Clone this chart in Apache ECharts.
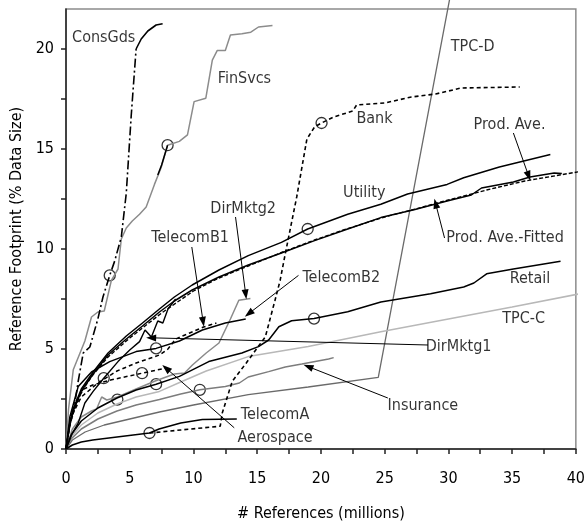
<!DOCTYPE html>
<html>
<head>
<meta charset="utf-8">
<script src="https://cdn.jsdelivr.net/npm/echarts@6/dist/echarts.min.js"></script>
<style>
  html, body { margin: 0; padding: 0; background: #fff; }
  #chart { width: 588px; height: 527px; }
</style>
</head>
<body>
<div id="chart"></div>
<script>
// Tick positions (millions of references / % of data size)
const xTickValues = [0, 2.5, 5, 7.5, 10, 12.5, 15, 17.5, 20, 22.5, 25, 27.5, 30, 32.5, 35, 37.5, 40];
const xLabelValues = [0, 5, 10, 15, 20, 25, 30, 35, 40];
const yTickValues = [0, 2.5, 5, 7.5, 10, 12.5, 15, 17.5, 20];
const yLabelValues = [0, 5, 10, 15, 20];

// Footprint curves: [references (millions), footprint (% data size)]
const consGdsRise = [[0,0],[0.3,1.3],[0.7,2.3],[0.96,3.4],[1.35,4.8],[1.87,5.1],[2.5,6.5],[2.9,7.6],[3.43,8.68],[3.82,9.4],[4.34,10.6],[4.73,12.8],[5.12,16.7],[5.5,20.0]];
const consGdsTop = [[5.5,20.0],[5.9,20.5],[6.42,20.9],[7.07,21.2],[7.58,21.26]];
const finSvcs = [[0,0],[0.2,2.0],[0.57,3.96],[1.48,5.4],[2.0,6.6],[2.5,6.85],[3.0,6.9],[3.56,8.43],[4.08,9.0],[4.34,10.5],[4.73,11.05],[5.2,11.4],[5.77,11.74],[6.29,12.1],[6.94,13.23],[7.46,14.06],[7.97,15.19],[8.89,15.38],[9.53,15.71],[10.05,17.37],[10.97,17.54],[11.48,19.44],[11.87,19.93],[12.5,19.93],[12.9,20.7],[13.8,20.76],[14.5,20.84],[15.1,21.1],[16.2,21.18]];
const finSvcsTail = [[7.2,13.7],[7.5,14.2],[7.97,15.19]];
const tpcD = [[0,0],[0.5,0.45],[1.5,0.85],[3,1.2],[5,1.5],[7.33,1.85],[10,2.2],[14.3,2.72],[19,3.1],[24.5,3.58],[30.1,22.5]];
const bank = [[6.55,0.8],[9,0.95],[12.1,1.14],[12.26,1.8],[13.04,3.38],[14.13,4.29],[15.64,5.61],[16.4,7.44],[16.8,8.43],[17.2,9.75],[18.1,12.6],[18.9,15.5],[19.5,16.1],[20.05,16.3],[21,16.6],[22.5,16.9],[22.8,17.2],[25,17.3],[27.1,17.6],[29,17.75],[31,18.05],[35.6,18.1]];
const utility = [[0,0],[0.3,1.3],[0.57,2.0],[1.2,3.0],[2.13,3.85],[3.3,4.8],[4.73,5.65],[6,6.3],[7.33,7.0],[8.5,7.6],[9.9,8.2],[12,8.95],[14.3,9.67],[16.9,10.33],[18.96,11.0],[22.1,11.74],[24.7,12.24],[26.8,12.75],[29.9,13.23],[31.2,13.56],[34,14.1],[38,14.72]];
const prodAve = [[0,0],[0.3,1.25],[0.57,1.9],[1.2,2.9],[2.13,3.75],[3.3,4.7],[4.73,5.5],[6,6.15],[7.33,6.85],[8.5,7.4],[9.9,7.95],[12,8.6],[14.3,9.2],[16.9,9.8],[19.5,10.42],[22.1,11.0],[24.7,11.57],[27.3,11.96],[29.9,12.4],[31.8,12.7],[32.6,13.05],[35.1,13.35],[36.4,13.6],[38.3,13.8],[38.9,13.78]];
const prodAveFitted = [[0,0],[0.3,1.2],[0.6,1.85],[1.2,2.85],[2.1,3.7],[3.3,4.6],[5,5.55],[7.5,6.8],[10,7.9],[12,8.55],[14.3,9.15],[17,9.85],[19.5,10.45],[22,11.0],[25,11.6],[28,12.1],[30,12.45],[33,12.95],[36,13.4],[38,13.62],[40.2,13.86]];
const retail = [[0,0],[0.4,0.7],[1.2,1.4],[2.5,2.05],[4,2.55],[5.5,2.95],[7.07,3.24],[8.9,3.63],[11.2,4.37],[13.8,4.8],[15.1,5.12],[15.9,5.45],[16.7,6.11],[17.7,6.41],[19.46,6.52],[22.1,6.86],[24.7,7.35],[28.6,7.76],[31.2,8.1],[32,8.3],[33.0,8.76],[35.1,9.0],[38.8,9.39]];
const tpcC = [[0,0],[0.4,0.6],[1.2,1.2],[2.5,1.8],[4,2.25],[5.5,2.6],[7.33,2.88],[9,3.35],[11,3.9],[14.3,4.62],[19,5.12],[24.7,5.86],[30,6.5],[35,7.1],[40.3,7.76]];
const insurance = [[0,0],[0.4,0.5],[1.2,1.0],[2.5,1.5],[4,1.9],[5.5,2.2],[7.33,2.47],[9,2.75],[10.5,2.96],[12.5,3.12],[13.6,3.3],[14.3,3.6],[15.9,3.87],[17.2,4.1],[18.5,4.25],[20.6,4.5],[21,4.57]];
const telecomA = [[0,0],[0.5,0.2],[1.2,0.35],[2.1,0.45],[4,0.6],[6.55,0.8],[7.3,1.0],[9,1.3],[10.7,1.47],[13.4,1.5]];
const telecomB1 = [[0,0],[0.4,1.6],[1.2,2.6],[2.5,3.3],[4,3.9],[5.5,4.3],[7.33,4.7],[8,5.0],[8.6,5.5],[9.7,5.8],[10.8,6.1],[11.8,6.3]];
const telecomB2 = [[0,0],[0.3,1.6],[0.96,3.13],[2,3.85],[3.43,4.37],[5.5,4.87],[7.07,5.03],[8.9,5.4],[10.7,5.95],[12.5,6.3],[14.1,6.5]];
const aerospace = [[0,0],[0.3,1.2],[0.8,2.4],[1.4,3.0],[2.1,3.2],[3.5,3.45],[5.97,3.79],[7.85,4.05]];
const dirMktg1 = [[0,0],[0.5,0.8],[0.96,1.3],[1.48,2.3],[2.13,2.88],[2.96,3.54],[4.08,4.37],[5.0,4.95],[5.77,5.37],[6.2,5.95],[6.7,5.6],[7.2,6.4],[7.6,6.3],[8.0,7.0],[8.6,7.5]];
const dirMktg2 = [[0,0],[0.5,1.0],[1.2,1.6],[2.0,1.9],[2.4,2.0],[2.8,2.6],[3.2,2.45],[4.03,2.6],[5.5,3.0],[7,3.4],[8.5,3.75],[9.3,3.8],[9.92,4.2],[11,4.8],[12.0,5.3],[12.9,6.5],[13.56,7.44],[14.47,7.52]];

// Points marked with open circles
const circlePoints = [[3.43,8.68],[7.97,15.19],[20.05,16.3],[18.96,11.0],[19.46,6.52],[10.5,2.96],[2.96,3.54],[5.97,3.79],[7.07,5.03],[7.07,3.24],[4.03,2.47],[6.55,0.8]];

const FONT = "'Liberation Sans Narrow','Arial Narrow','DejaVu Sans Condensed',sans-serif";
const TEXT_SIZE = 16;

function curve(name, data, color, width, type, extra) {
  return Object.assign({
    name: name,
    type: 'line',
    data: data,
    showSymbol: false,
    symbol: 'none',
    smooth: false,
    silent: true,
    animation: false,
    lineStyle: { color: color, width: width, type: type || 'solid' }
  }, extra || {});
}

// Curve names placed beside the curves (data coordinates)
const annotations = [
  { text: 'ConsGds', at: [2.96, 20.57] },
  { text: 'FinSvcs', at: [14.0, 18.5] },
  { text: 'TPC-D', at: [31.9, 20.1] },
  { text: 'Bank', at: [24.2, 16.5] },
  { text: 'Prod. Ave.', at: [34.8, 16.2] },
  { text: 'Utility', at: [23.4, 12.8] },
  { text: 'Prod. Ave.-Fitted', at: [34.45, 10.58] },
  { text: 'Retail', at: [36.4, 8.5] },
  { text: 'TPC-C', at: [35.9, 6.5] },
  { text: 'DirMktg1', at: [30.8, 5.1] },
  { text: 'Insurance', at: [28.0, 2.18] },
  { text: 'TelecomA', at: [16.4, 1.69] },
  { text: 'Aerospace', at: [16.4, 0.55] },
  { text: 'DirMktg2', at: [13.9, 12.0] },
  { text: 'TelecomB1', at: [9.74, 10.58] },
  { text: 'TelecomB2', at: [21.6, 8.54] }
];

// Leader arrows: from label to curve
const arrows = [
  [[35.1, 15.8], [36.3, 13.65]],
  [[29.7, 10.55], [29.0, 12.27]],
  [[13.3, 11.6], [14.1, 7.73]],
  [[9.87, 10.1], [10.76, 6.36]],
  [[18.24, 8.68], [14.34, 6.77]],
  [[28.4, 5.2], [6.68, 5.56]],
  [[25.25, 2.55], [19.0, 4.12]],
  [[13.2, 1.06], [7.85, 4.04]]
];

const BLACK = '#000';
const series = [
  curve('TPC-D', tpcD, '#6a6a6a', 1.3, 'solid', { clip: false }),
  curve('TPC-C', tpcC, '#b8b8b8', 1.5),
  curve('Insurance', insurance, '#7c7c7c', 1.5),
  curve('DirMktg2', dirMktg2, '#8a8a8a', 1.5),
  curve('FinSvcs', finSvcs, '#8c8c8c', 1.5),
  curve('FinSvcs', finSvcsTail, BLACK, 1.5),
  curve('ConsGds', consGdsRise, BLACK, 1.6, [9, 3, 2, 3]),
  curve('ConsGds', consGdsTop, BLACK, 1.6),
  curve('Bank', bank, BLACK, 1.6, [4, 3]),
  curve('Utility', utility, BLACK, 1.5),
  curve('Prod. Ave.', prodAve, BLACK, 1.5),
  curve('Prod. Ave.-Fitted', prodAveFitted, BLACK, 1.4, [4, 2], { clip: false }),
  curve('Retail', retail, BLACK, 1.5),
  curve('TelecomA', telecomA, BLACK, 1.5),
  curve('TelecomB1', telecomB1, BLACK, 1.5, [4, 3]),
  curve('TelecomB2', telecomB2, BLACK, 1.5),
  curve('Aerospace', aerospace, BLACK, 1.5, [4, 3]),
  curve('DirMktg1', dirMktg1, BLACK, 1.4),
  {
    name: 'circles',
    type: 'scatter',
    data: circlePoints,
    symbol: 'circle',
    symbolSize: 11,
    silent: true,
    animation: false,
    itemStyle: { color: 'rgba(255,255,255,0)', borderColor: BLACK, borderWidth: 1.3 }
  },
  {
    name: 'labels',
    type: 'scatter',
    symbolSize: 0,
    silent: true,
    animation: false,
    color: BLACK,
    itemStyle: { color: BLACK },
    data: annotations.map(a => ({
      value: a.at,
      label: { show: true, position: 'inside', formatter: a.text }
    })),
    label: { color: '#000', fontFamily: FONT, fontSize: TEXT_SIZE, textBorderWidth: 0, textBorderColor: 'transparent' },
    markLine: {
      silent: true,
      animation: false,
      symbol: ['none', 'triangle'],
      symbolSize: [7, 10],
      symbolKeepAspect: false,
      label: { show: false },
      itemStyle: { color: BLACK },
      lineStyle: { color: BLACK, width: 1, type: 'solid' },
      emphasis: { disabled: true },
      data: arrows.map(a => [{ coord: a[0] }, { coord: a[1] }])
    }
  }
];

const chart = echarts.init(document.getElementById('chart'), null, { renderer: 'canvas' });
chart.setOption({
  animation: false,
  backgroundColor: '#fff',
  grid: {
    left: 66, right: 9, top: 9, bottom: 74,
    show: true, borderColor: '#8c8c8c', borderWidth: 1.5, backgroundColor: 'transparent'
  },
  xAxis: {
    type: 'value', min: 0, max: 40,
    name: '# References (millions)',
    nameLocation: 'middle', nameGap: 57,
    nameTextStyle: { fontFamily: FONT, fontSize: TEXT_SIZE, color: '#000' },
    axisLine: { lineStyle: { color: '#222', width: 1.5 } },
    axisTick: { show: true, inside: false, length: 5, customValues: xTickValues, lineStyle: { color: '#222', width: 1.5 } },
    axisLabel: { customValues: xLabelValues, margin: 22, fontFamily: FONT, fontSize: TEXT_SIZE, color: '#000' },
    splitLine: { show: false }
  },
  yAxis: {
    type: 'value', min: 0, max: 22,
    name: 'Reference Footprint (% Data Size)',
    nameLocation: 'middle', nameGap: 33, nameRotate: 90,
    nameTextStyle: { fontFamily: FONT, fontSize: TEXT_SIZE, color: '#000' },
    axisLine: { lineStyle: { color: '#222', width: 1.5 } },
    axisTick: { show: true, inside: false, length: 5, customValues: yTickValues, lineStyle: { color: '#222', width: 1.5 } },
    axisLabel: { customValues: yLabelValues, margin: 12, fontFamily: FONT, fontSize: TEXT_SIZE, color: '#000' },
    splitLine: { show: false }
  },
  series: series
});
</script>
</body>
</html>
